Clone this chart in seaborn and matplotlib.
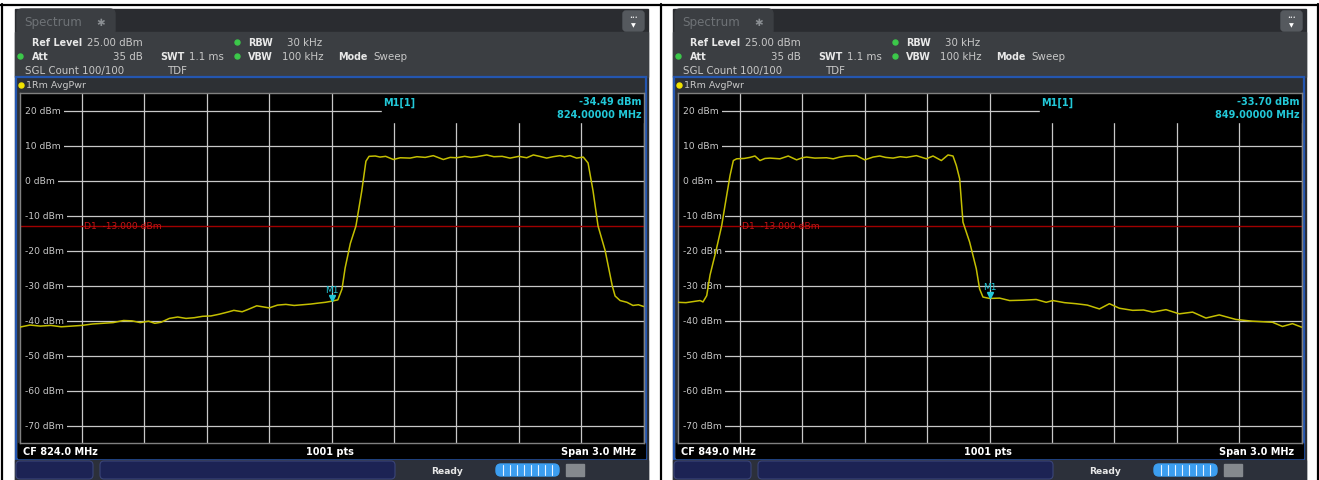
import numpy as np
import matplotlib.pyplot as plt
from matplotlib.patches import Rectangle, FancyBboxPatch
import seaborn as sns

sns.set_theme(style="dark")
plt.rcParams['font.family'] = ['DejaVu Sans']

# --- data ---
SPAN = 3.0
REF_LEVEL = 25
D1_LIMIT = -13.0
grid_levels = [20, 10, 0, -10, -20, -30, -40, -50, -60, -70]

cf_left = 824.0
freq_824 = [822.50, 822.55, 822.60, 822.65, 822.70, 822.75, 822.80, 822.85, 822.90, 822.95,
            823.00, 823.04, 823.08, 823.12, 823.15, 823.18, 823.22, 823.26, 823.30, 823.34,
            823.38, 823.42, 823.46, 823.50, 823.53, 823.57, 823.60, 823.64, 823.67, 823.70,
            823.74, 823.78, 823.82, 823.86, 823.90, 823.94, 823.97, 824.00, 824.03, 824.05,
            824.065, 824.09, 824.117, 824.145, 824.165, 824.18, 824.21, 824.233, 824.26, 824.297,
            824.33, 824.377, 824.41, 824.45, 824.489, 824.537, 824.57, 824.601, 824.64, 824.67,
            824.698, 824.746, 824.78, 824.82, 824.858, 824.90, 824.938, 824.97, 825.00, 825.034,
            825.065, 825.098, 825.12, 825.146, 825.178, 825.21, 825.233, 825.257, 825.281, 825.315,
            825.349, 825.363, 825.387, 825.42, 825.449, 825.475, 825.50]
level_824 = [-41.9, -41.3, -41.6, -41.4, -41.8, -41.6, -41.4, -41.0, -40.8, -40.6,
             -40.0, -40.1, -40.6, -40.2, -40.8, -40.5, -39.4, -39.0, -39.4, -39.2,
             -38.8, -38.7, -38.2, -37.6, -37.1, -37.5, -36.8, -35.8, -36.1, -36.4,
             -35.6, -35.4, -35.7, -35.5, -35.3, -35.0, -34.8, -34.49, -34.1, -31.0,
             -25.0, -18.0, -13.0, -3.0, 5.5, 6.9, 7.0, 6.7, 6.9, 6.0,
             6.5, 6.4, 6.8, 6.6, 7.1, 6.0, 6.6, 6.5, 6.9, 6.6,
             6.8, 7.3, 6.8, 6.9, 6.4, 6.9, 6.5, 7.3, 6.9, 6.4,
             6.8, 7.1, 6.8, 7.1, 6.4, 6.7, 5.0, -3.0, -13.0, -20.0,
             -30.0, -33.0, -34.3, -34.8, -35.7, -35.5, -36.0]
marker_824 = (824.0, -34.49)

cf_right = 849.0
freq_849 = [847.50, 847.54, 847.574, 847.608, 847.622, 847.64, 847.656, 847.685, 847.712, 847.728,
            847.752, 847.768, 847.784, 847.82, 847.848, 847.872, 847.896, 847.92, 847.944, 847.992,
            848.032, 848.072, 848.10, 848.12, 848.16, 848.216, 848.248, 848.28, 848.312, 848.36,
            848.40, 848.44, 848.472, 848.50, 848.536, 848.57, 848.60, 848.648, 848.696, 848.728,
            848.768, 848.80, 848.824, 848.84, 848.856, 848.872, 848.904, 848.936, 848.952, 848.968,
            849.00, 849.048, 849.096, 849.16, 849.224, 849.272, 849.304, 849.36, 849.416, 849.47,
            849.528, 849.576, 849.624, 849.688, 849.74, 849.784, 849.848, 849.912, 849.976, 850.04,
            850.104, 850.184, 850.264, 850.36, 850.408, 850.456, 850.50]
level_849 = [-34.8, -34.9, -34.6, -34.3, -34.7, -32.9, -27.0, -20.0, -12.9, -7.1,
             1.4, 5.7, 6.2, 6.3, 6.6, 7.0, 5.7, 6.3, 6.4, 6.2,
             7.0, 5.9, 6.5, 6.7, 6.4, 6.5, 6.2, 6.7, 7.0, 7.1,
             5.9, 6.7, 7.0, 6.6, 6.4, 6.8, 6.6, 7.1, 6.2, 7.0,
             5.7, 7.3, 7.0, 4.3, 0.5, -11.9, -17.6, -25.2, -31.0, -33.3,
             -33.7, -33.6, -34.3, -34.2, -34.0, -34.8, -34.3, -34.9, -35.2, -35.6,
             -36.7, -35.2, -36.5, -37.1, -37.0, -37.6, -36.9, -38.1, -37.6, -39.3,
             -38.4, -39.7, -40.2, -40.5, -41.7, -40.9, -41.9]
marker_849 = (849.0, -33.70)

panels = [
    dict(ox=0, cf=cf_left, freq=freq_824, level=level_824, marker=marker_824),
    dict(ox=658, cf=cf_right, freq=freq_849, level=level_849, marker=marker_849),
]

W, H = 1319, 481
TRACE = '#c4bf00'
CYAN = '#22c8d8'
GRID = '#c8c8c8'
HDR_BG = '#3b3e42'

fig = plt.figure(figsize=(W / 100, H / 100), dpi=100)
fig.patch.set_facecolor('white')

# full-figure canvas in pixel units for the instrument "chrome"
bg = fig.add_axes([0, 0, 1, 1])
bg.set_xlim(0, W)
bg.set_ylim(H, 0)
bg.axis('off')


def hdr(x, y, s, bold=False, **kw):
    bg.text(x, y, s, color='#e8e8e8' if bold else '#c8c8c8', fontsize=6.9 if bold else 7.4,
            fontweight='bold' if bold else 'normal', va='center', **kw)


for p in panels:
    ox = p['ox']
    # window background, tab bar and header
    bg.add_patch(Rectangle((15 + ox, 10), 633, 471, color='#2a2c30', zorder=1))
    bg.add_patch(Rectangle((15 + ox, 33), 633, 45, color=HDR_BG, zorder=1))
    bg.add_patch(FancyBboxPatch((17 + ox, 10), 98, 26, boxstyle="round,pad=0,rounding_size=5",
                                color=HDR_BG, zorder=2))
    bg.text(24 + ox, 22.5, 'Spectrum', color='#6e7276', fontsize=8.6, va='center', zorder=3)
    bg.text(101 + ox, 22.5, '✱', color='#8a8e92', fontsize=7.5, va='center', ha='center', zorder=3)
    bg.add_patch(FancyBboxPatch((623 + ox, 12), 21, 20, boxstyle="round,pad=0,rounding_size=3",
                                color='#55595e', zorder=2))
    bg.text(633.5 + ox, 17, '•••', color='white', fontsize=3.5, ha='center', va='center', zorder=3)
    bg.text(633.5 + ox, 26, '▼', color='white', fontsize=4.5, ha='center', va='center', zorder=3)

    # setting rows
    hdr(32 + ox, 42.5, 'Ref Level', bold=True, zorder=3)
    hdr(87 + ox, 42.5, '25.00 dBm', zorder=3)
    hdr(248 + ox, 42.5, 'RBW', bold=True, zorder=3)
    hdr(287 + ox, 42.5, '30 kHz', zorder=3)
    hdr(32 + ox, 56.5, 'Att', bold=True, zorder=3)
    hdr(143 + ox, 56.5, '35 dB', ha='right', zorder=3)
    hdr(160 + ox, 56.5, 'SWT', bold=True, zorder=3)
    hdr(189 + ox, 56.5, '1.1 ms', zorder=3)
    hdr(248 + ox, 56.5, 'VBW', bold=True, zorder=3)
    hdr(282 + ox, 56.5, '100 kHz', zorder=3)
    hdr(338 + ox, 56.5, 'Mode', bold=True, zorder=3)
    hdr(373 + ox, 56.5, 'Sweep', zorder=3)
    hdr(25 + ox, 71, 'SGL Count 100/100', zorder=3)
    hdr(167 + ox, 71, 'TDF', zorder=3)
    bg.plot([237 + ox, 20 + ox, 237 + ox], [42.5, 56.5, 56.5], ls='none', marker='o', ms=3.6,
            color='#3cc84a', zorder=3)

    # diagram window with blue frame
    bg.add_patch(Rectangle((16 + ox, 78), 630, 382, facecolor='#2d3034', edgecolor='#2456b0',
                           lw=1.6, zorder=2))
    bg.plot([21 + ox], [86], marker='o', ms=3.6, color='#f2e400', zorder=3)
    bg.text(26 + ox, 86, '1Rm AvgPwr', color='#c8c8c8', fontsize=6.8, va='center', zorder=3)

    # footer
    bg.add_patch(Rectangle((18 + ox, 444), 627, 15, color='black', zorder=3))
    foot = dict(color='white', fontsize=7, fontweight='bold', va='center', zorder=4)
    bg.text(23 + ox, 452, f"CF {p['cf']:.1f} MHz", **foot)
    bg.text(330 + ox, 452, '1001 pts', ha='center', **foot)
    bg.text(636 + ox, 452, f"Span {SPAN:.1f} MHz", ha='right', **foot)

    # status bar
    bg.add_patch(Rectangle((15 + ox, 461), 633, 20, color='#2c303a', zorder=3))
    for bx, bw in [(16, 77), (100, 295)]:
        bg.add_patch(FancyBboxPatch((bx + ox, 462), bw, 18, boxstyle="round,pad=0,rounding_size=4",
                                    facecolor='#1c2354', edgecolor='#3a4478', lw=0.8, zorder=4))
    bg.text(447 + ox, 471.5, 'Ready', color='#e8e8e8', fontsize=6.6, fontweight='bold',
            ha='center', va='center', zorder=4)
    bg.add_patch(FancyBboxPatch((496 + ox, 465), 63, 12, boxstyle="round,pad=0,rounding_size=5",
                                color='#3c9ef0', zorder=4))
    for k in range(8):
        sx = 503 + ox + k * 7
        bg.plot([sx, sx], [466, 476], color='#e6f2ff', lw=0.8, zorder=5)
    bg.add_patch(Rectangle((566 + ox, 465), 18, 12, color='#85898e', zorder=4))

# table borders around the two screenshots
bg.plot([0, W], [5.5, 5.5], color='black', lw=1.6, zorder=6)
for bx in [1.5, 661, 1318]:
    bg.plot([bx, bx], [5, H], color='black', lw=1.6, zorder=6)

# --- the two spectrum diagrams ---
for p in panels:
    ox = p['ox']
    cf = p['cf']
    ax = fig.add_axes([(19.6 + ox) / W, 1 - 444 / H, 624 / W, 350 / H])
    ax.set_facecolor('black')
    ax.set_xlim(cf - SPAN / 2, cf + SPAN / 2)
    ax.set_ylim(REF_LEVEL - 100, REF_LEVEL)
    ax.set_xticks(np.linspace(cf - SPAN / 2, cf + SPAN / 2, 11))
    ax.set_yticks(grid_levels)
    ax.grid(True, color=GRID, lw=0.9)
    ax.set_axisbelow(True)
    ax.tick_params(length=0, labelbottom=False, labelleft=False)
    ax.set_xlabel('')
    ax.set_ylabel('')
    for s in ax.spines.values():
        s.set_color('#808080')
        s.set_linewidth(1)

    # marker info box hides the grid in the upper right
    ax.add_patch(Rectangle((0.581, 0.918), 0.419, 0.082, transform=ax.transAxes,
                           color='black', zorder=1))
    # label column on the left hides the start of the level lines
    ax.add_patch(Rectangle((0.0, 0.0), 0.006, 1.0, transform=ax.transAxes,
                           color='black', zorder=1))

    for lv in grid_levels:
        ax.text(0.0085, lv, f"{lv} dBm", transform=ax.get_yaxis_transform(), color='#c8c8c8',
                fontsize=6.6, va='center', ha='left', zorder=2,
                bbox=dict(facecolor='black', edgecolor='none', pad=2.2))

    ax.axhline(D1_LIMIT, color='#a00000', lw=1, zorder=2)
    ax.text(cf - SPAN / 2 + SPAN / 10 + 0.01, D1_LIMIT, f"D1  {D1_LIMIT:.3f} dBm",
            color='#c81414', fontsize=6.6, va='center', ha='left', zorder=3)

    sns.lineplot(x=p['freq'], y=p['level'], ax=ax, color=TRACE, lw=1.1,
                 estimator=None, sort=False, legend=False, zorder=4)

    mf, ml = p['marker']
    ax.plot([mf], [ml + 0.9], marker='v', ms=4.5, color=CYAN, ls='none', zorder=5)
    ax.text(mf, ml + 3.3, 'M1', color=CYAN, fontsize=6.5, ha='center', va='center', zorder=5)

    ax.text(0.582, 0.976, 'M1[1]', transform=ax.transAxes, color=CYAN, fontsize=7,
            fontweight='bold', va='center', ha='left', zorder=5)
    ax.text(0.997, 0.976, f"{ml:.2f} dBm", transform=ax.transAxes, color=CYAN, fontsize=7,
            fontweight='bold', va='center', ha='right', zorder=5)
    ax.text(0.997, 0.939, f"{mf:.5f} MHz", transform=ax.transAxes, color=CYAN, fontsize=7,
            fontweight='bold', va='center', ha='right', zorder=5)

plt.savefig("out.png", dpi=100)
